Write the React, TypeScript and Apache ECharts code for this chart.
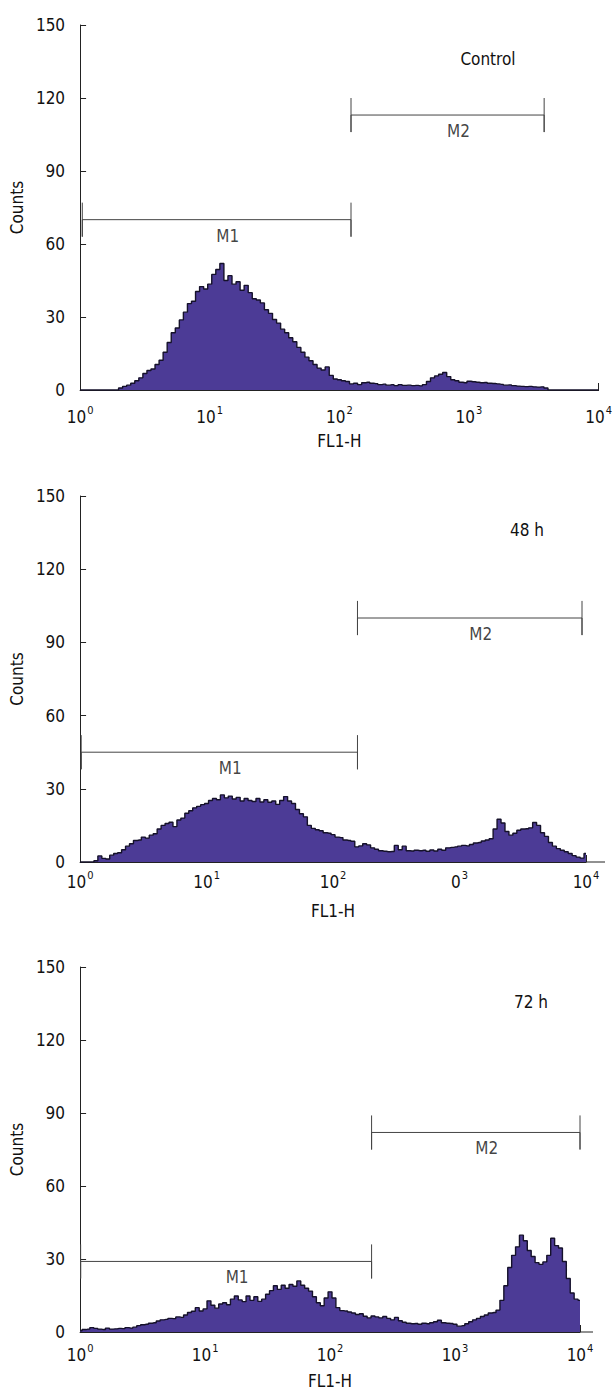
import { useEffect, useRef } from "react";
import * as echarts from "echarts";

const FONT = "'DejaVu Sans Condensed', 'DejaVu Sans', sans-serif";
const INK = "#111111";
const AXIS = "#222222";
const FILL = "#4c3b96";

// one histogram channel = 1/32 of a decade, channel k sits at 10^(k/32)
const CHANNELS_PER_DECADE = 32;

const panelTitles = ["Control", "48 h", "72 h"];
const xTickBases = [
  ["10", "10", "10", "10", "10"],
  ["10", "10", "10", "0", "10"],
  ["10", "10", "10", "10", "10"],
];
const xTickExponents = ["0", "1", "2", "3", "4"];
const yMax = 150;
const yInterval = 30;

// counts per channel k = 0..128
const controlCounts = [
  0, 0, 0, 0, 0, 0, 0, 0, 0, 0,
  0.8, 1.5, 2.0, 2.8, 3.8, 5.0, 6.8, 8.0, 8.6, 10.5,
  12.2, 15.5, 19.5, 23.5, 25.5, 28.8, 32, 35.5, 36.5, 40.5,
  42.5, 41.5, 43.5, 47.5, 49.5, 52, 45, 47, 43.5, 44.5,
  41, 43, 40, 37.5, 37, 35.8, 33, 31.5, 29, 27.5,
  25, 23.5, 21.5, 19.8, 17.5, 15.5, 13.5, 12, 10.5, 9,
  8.2, 9.5, 6, 4.5, 4.2, 3.8, 3.5, 2.5, 2.8, 2.2,
  3.0, 3.2, 2.8, 2.6, 2.2, 2.4, 2.0, 2.2, 1.8, 2.2,
  1.9, 2.0, 1.8, 1.9, 1.7, 2.2, 3.5, 5.0, 5.8, 6.5,
  7.2, 5.5, 4.2, 3.8, 3.2, 3.0, 3.6, 3.4, 3.2, 3.0,
  3.1, 2.8, 2.7, 2.5, 2.3, 2.0, 2.1, 1.8, 1.6, 1.5,
  1.4, 1.5, 1.3, 1.2, 1.3, 0.8, 0, 0, 0, 0,
  0, 0, 0, 0, 0, 0, 0, 0, 0,
];
const h48Counts = [
  0, 0, 0, 0, 0.5, 2.5, 1.5, 1.2, 2.8, 3.5,
  3.8, 5.0, 6.5, 7.5, 8.8, 9.0, 10.2, 9.8, 11.0, 11.6,
  13.5, 15.0, 15.8, 16.3, 14.5, 17.2, 18.0, 20.0, 21.0, 22.2,
  22.8, 23.5, 24.0, 25.2, 26.0, 25.5, 27.5, 26.3, 27.0, 25.8,
  26.5, 25.0, 26.0, 25.2, 24.8, 26.0, 24.6, 25.5, 24.5, 25.0,
  23.6, 25.2, 26.8, 25.0, 24.0, 21.5, 19.8, 18.5, 15.0, 13.8,
  13.2, 12.8, 12.0, 11.8, 11.2, 10.2, 10.0, 9.0, 8.8, 8.5,
  6.2, 6.6, 7.5, 7.0, 5.8, 5.2, 4.6, 4.4, 4.2, 4.3,
  6.8, 5.0, 6.5, 4.6, 4.5, 4.8, 4.6, 4.8, 4.4, 4.9,
  4.5, 5.2, 4.8, 5.8, 6.0, 6.2, 6.5, 6.8, 6.6, 7.2,
  7.8, 8.0, 8.6, 9.0, 9.5, 13.5, 17.5, 16.0, 12.5, 11.0,
  11.8, 13.0, 13.5, 13.6, 14.0, 16.2, 15.0, 12.0, 10.5, 8.0,
  6.5, 5.5, 4.8, 4.2, 3.5, 2.6, 2.0, 1.6, 3.5,
];
const h72Counts = [
  0.5, 1.0, 1.2, 1.8, 1.5, 1.2, 1.0, 1.6, 1.2, 1.3,
  1.5, 1.4, 1.8, 1.6, 2.0, 2.6, 3.0, 3.2, 3.6, 3.8,
  4.5, 5.0, 5.2, 5.6, 5.5, 6.2, 6.0, 7.0, 8.0, 8.5,
  10.0, 8.6, 9.5, 12.8, 11.0, 9.8, 11.5, 12.0, 11.2, 13.5,
  14.8, 13.2, 12.5, 14.8, 13.0, 14.5, 12.6, 13.5, 15.5, 17.0,
  19.0, 17.5, 19.2, 18.0, 19.5, 18.8, 21.0, 19.2, 18.0, 16.8,
  14.5, 12.0, 10.8, 14.0, 16.5, 14.0, 10.0, 8.8, 8.6, 8.2,
  7.8, 7.2, 7.5, 6.5, 5.8, 6.6, 6.2, 5.8, 6.4, 5.6,
  5.0, 6.0, 4.6, 4.0, 3.6, 3.4, 3.5, 3.2, 3.6, 3.4,
  3.8, 4.2, 4.8, 3.8, 3.6, 3.5, 3.2, 2.4, 2.6, 3.4,
  4.2, 5.0, 5.6, 6.4, 7.0, 7.8, 8.0, 9.0, 13.0, 19.0,
  26.5, 31.5, 35.0, 39.8, 37.5, 33.5, 31.0, 28.5, 27.8, 28.8,
  31.5, 38.5, 35.5, 34.5, 29.0, 22.0, 16.0, 13.5, 13.0,
];
const panelCounts = [controlCounts, h48Counts, h72Counts];

// gate markers: [from, to, level] in FL1-H units / counts
const markerNames = ["M1", "M2"];
const controlMarkers = [[1.04, 123, 70], [123, 3800, 113]];
const h48Markers = [[1.02, 156, 45], [156, 9300, 100]];
const h72Markers = [[1.01, 215, 29], [215, 10000, 82]];
const panelMarkers = [controlMarkers, h48Markers, h72Markers];
const CAP = 7;

// layout (pixels)
const grids = [
  { left: 78, top: 25, width: 524, height: 365, labelMargin: 15, nameGap: 42, ext: 0 },
  { left: 78, top: 496, width: 508, height: 366, labelMargin: 8, nameGap: 40, ext: 19 },
  { left: 78, top: 967, width: 502, height: 365, labelMargin: 11, nameGap: 40, ext: 13 },
];
const titlePos = [[488, 59], [527, 530], [531, 1002]];

export default function App() {
  const ref = useRef<HTMLDivElement>(null);
  useEffect(() => {
    if (!ref.current) return;
    const chart = echarts.init(ref.current, null, { renderer: "svg" });
    const txt = { fontFamily: FONT, fontSize: 17, color: INK };

    const xAxis: any[] = [];
    const yAxis: any[] = [];
    const series: any[] = [];
    const graphic: any[] = [];

    grids.forEach((g, i) => {
      xAxis.push({
        type: "log",
        logBase: 10,
        gridIndex: i,
        min: 1,
        max: 10000,
        name: "FL1-H",
        nameLocation: "middle",
        nameGap: g.nameGap,
        nameTextStyle: txt,
        axisLine: { show: true, lineStyle: { color: AXIS, width: 1 } },
        axisTick: { show: true, inside: true, length: 7, lineStyle: { color: AXIS } },
        minorTick: { show: false },
        splitLine: { show: false },
        axisLabel: {
          margin: g.labelMargin,
          formatter: (v: number) => {
            const e = Math.round(Math.log10(v));
            return `{b|${xTickBases[i][e]}}{s|${xTickExponents[e]}}`;
          },
          rich: {
            b: { fontFamily: FONT, fontSize: 17, color: INK, lineHeight: 20, verticalAlign: "bottom" },
            s: { fontFamily: FONT, fontSize: 11, color: INK, lineHeight: 12, verticalAlign: "top", padding: [0, 0, 0, 1] },
          },
        },
      });
      yAxis.push({
        type: "value",
        gridIndex: i,
        min: 0,
        max: yMax,
        interval: yInterval,
        name: "Counts",
        nameLocation: "middle",
        nameRotate: 90,
        nameGap: 46,
        nameTextStyle: txt,
        axisLine: { show: true, lineStyle: { color: AXIS, width: 1 } },
        axisTick: { show: true, inside: true, length: 6, lineStyle: { color: AXIS } },
        splitLine: { show: false },
        axisLabel: { margin: 15, ...txt },
      });

      series.push({
        type: "line",
        xAxisIndex: i,
        yAxisIndex: i,
        symbol: "none",
        silent: true,
        step: "middle",
        z: 2,
        data: panelCounts[i].map((c, k) => [Math.pow(10, k / CHANNELS_PER_DECADE), c]),
        lineStyle: { color: "#15112a", width: 1.4 },
        areaStyle: { color: FILL, opacity: 1 },
      });

      panelMarkers[i].forEach(([from, to, level], j) => {
        series.push({
          type: "line",
          xAxisIndex: i,
          yAxisIndex: i,
          symbol: "none",
          silent: true,
          z: 3,
          data: [
            [from, level + CAP],
            [from, level - CAP],
            [from, level],
            [to, level],
            [to, level - CAP],
            [to, level + CAP],
          ],
          lineStyle: { color: "#444444", width: 1 },
        });
        series.push({
          type: "scatter",
          xAxisIndex: i,
          yAxisIndex: i,
          symbolSize: 1,
          silent: true,
          z: 3,
          itemStyle: { color: "rgba(0,0,0,0)" },
          data: [{ value: [Math.sqrt(from * to), level], name: markerNames[j] }],
          label: { show: true, position: "inside", offset: [11, 16], formatter: "{b}", ...txt },
        });
      });

      graphic.push({
        type: "text",
        x: titlePos[i][0],
        y: titlePos[i][1],
        style: {
          text: panelTitles[i],
          fill: INK,
          font: `17px ${FONT}`,
          align: "center",
          verticalAlign: "middle",
          textAlign: "center",
          textVerticalAlign: "middle",
        },
      });
      if (g.ext > 0) {
        const y = g.top + g.height;
        graphic.push({
          type: "line",
          shape: { x1: g.left + g.width, y1: y, x2: g.left + g.width + g.ext, y2: y },
          style: { stroke: AXIS, lineWidth: 1 },
        });
      }
    });

    chart.setOption({
      animation: false,
      backgroundColor: "#ffffff",
      grid: grids.map((g) => ({ left: g.left, top: g.top, width: g.width, height: g.height, containLabel: false })),
      xAxis,
      yAxis,
      series,
      graphic,
    });
    return () => chart.dispose();
  }, []);

  return (
    <div
      ref={ref}
      style={{ position: "absolute", left: 0, top: 0, width: 615, height: 1391, background: "#fff" }}
    />
  );
}
